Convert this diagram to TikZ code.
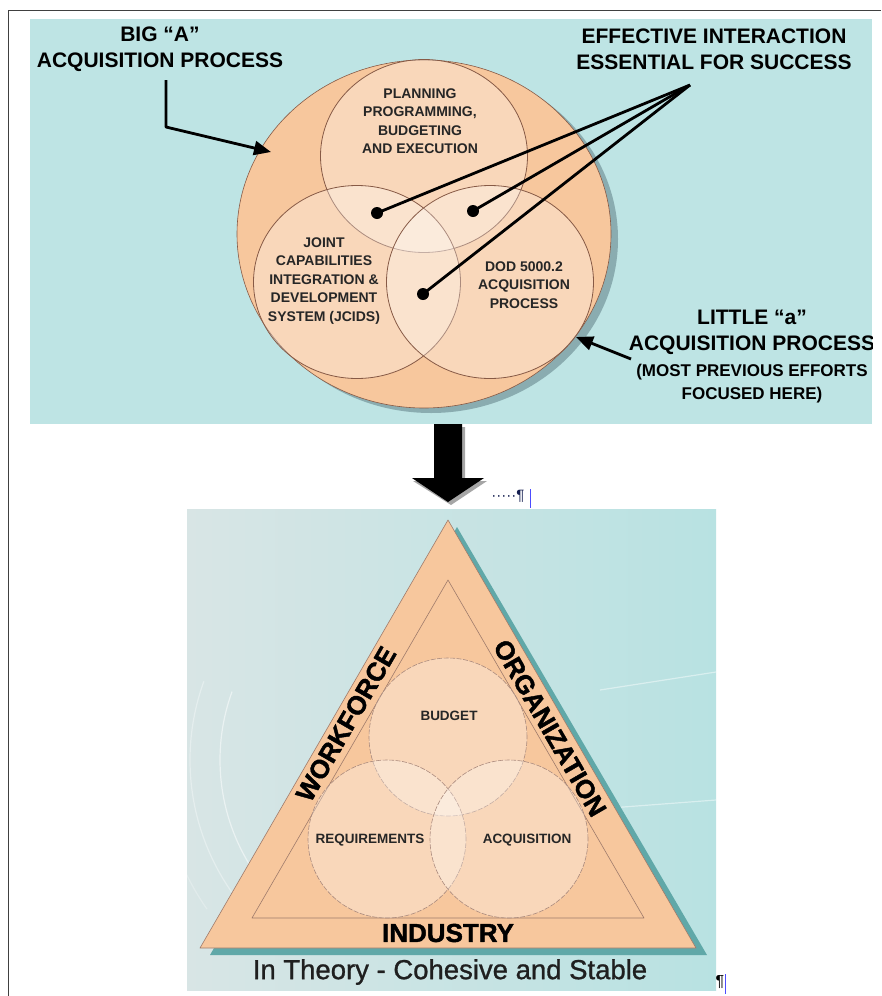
\documentclass[tikz,border=0pt]{standalone}
\usepackage{fontspec}
\setmainfont{Liberation Sans}
\newfontfamily\heavyfont[BoldFeatures={FakeBold=1.6}]{Liberation Sans}
\newfontfamily\mediumfont[FakeBold=1.0]{Liberation Sans}
\usetikzlibrary{arrows.meta,positioning,shapes.geometric}

\definecolor{panelcyan}{RGB}{190,228,228}
\definecolor{peach}{RGB}{247,199,157}
\definecolor{rimbrown}{RGB}{135,90,70}
\definecolor{rimshadow}{RGB}{138,172,176}
\definecolor{triteal}{RGB}{96,168,168}
\definecolor{bgleft}{RGB}{216,229,229}
\definecolor{bgright}{RGB}{184,226,226}
\definecolor{marknavy}{RGB}{20,30,80}

\tikzset{
  hdr/.style={font=\bfseries\fontsize{21}{26}\selectfont,align=center,text=black},
  venn/.style={ellipse,draw=rimbrown,line width=0.8pt,fill=white,fill opacity=0.3,
    minimum width=207pt,minimum height=193pt,inner sep=0pt},
  venntext/.style={font=\bfseries\fontsize{14}{18.5}\selectfont,align=center,text=black!85},
  hotspot/.style={circle,fill=black,inner sep=0pt,minimum size=12pt},
  lead/.style={line width=2.8pt,black},
  trivenn/.style={circle,draw=rimbrown!70,line width=0.6pt,dash pattern=on 5pt off 1.5pt,
    fill=white,fill opacity=0.3,minimum size=158pt,inner sep=0pt},
  trilabel/.style={font=\bfseries\fontsize{13.5}{16}\selectfont,text=black!85},
  sidelabel/.style={font=\heavyfont\bfseries\fontsize{26}{30}\selectfont,text=black},
}

\begin{document}
\begin{tikzpicture}[x=1pt,y=-1pt,line join=round]
\useasboundingbox (0,0) rectangle (881,996);
\draw[black!75,line width=1pt] (8,996) -- (8,10) -- (881,10);

% big A / little a
\fill[panelcyan] (30,19) rectangle (872,424);
\fill[rimshadow] (431,239) ellipse [x radius=187, y radius=174];
\draw[rimbrown,line width=0.6pt,fill=peach] (424,234) ellipse [x radius=187, y radius=174];
\node[venn] (ppbe) at (424,156) {};
\node[venn] (jcids) at (357,282) {};
\node[venn] (dod) at (490,282) {};
\node[venntext] (ppbetext) at (420,121) {PLANNING\\PROGRAMMING,\\BUDGETING\\AND EXECUTION};
\node[venntext] (jcidstext) at (324,281) {JOINT\\CAPABILITIES\\INTEGRATION \&\\DEVELOPMENT\\SYSTEM (JCIDS)};
\node[venntext] (dodtext) at (524,285) {DOD 5000.2\\ACQUISITION\\PROCESS};

\node[hotspot] (ppbejcids) at (377,213) {};
\node[hotspot] (ppbedod) at (473,211) {};
\node[hotspot] (jcidsdod) at (423,294) {};

\node[hdr] (bigA) at (160,49) {BIG “A”\\ACQUISITION PROCESS};
\node[hdr] (effective) at (714,49) {EFFECTIVE INTERACTION\\ESSENTIAL FOR SUCCESS};
\begin{scope}
\clip (30,19) rectangle (872,424);
\node[hdr] (little) at (752,332) {LITTLE “a”\\ACQUISITION PROCESS};
\node[font=\bfseries\fontsize{17}{23}\selectfont,align=center] (focused) at (752,384)
  {(MOST PREVIOUS EFFORTS\\FOCUSED HERE)};
\end{scope}

\coordinate (bigstart) at (166,80);
\coordinate (bigtip) at (271,152);
\draw[lead,-{Triangle[length=17pt,width=14pt]}] (bigstart) -- (166,127) -- (bigtip);
\coordinate (hub) at (690,85);
\foreach \spot in {ppbejcids,ppbedod,jcidsdod}
  \draw[lead] (hub) -- (\spot.center);
\coordinate (littlestart) at (631,359);
\coordinate (littletip) at (576,337);
\draw[lead,-{Triangle[length=17pt,width=14pt]}] (littlestart) -- (littletip);

% down arrow
\fill[black!35] (437,427) -- (465,427) -- (465,481) -- (487,481) -- (451,505) -- (413,481) -- (437,481) -- cycle;
\fill[black] (434,424) -- (462,424) -- (462,478) -- (484,478) -- (448,502) -- (412,478) -- (434,478) -- cycle;
\node[font=\fontsize{15}{16}\selectfont,text=marknavy,inner sep=0pt] (mark) at (508,496) {·····¶};
\draw[blue!70,line width=0.8pt] (530,489) -- (530,508);

% triangle
\shade[left color=bgleft,right color=bgright] (187,509) rectangle (716,990);
\foreach \r/\a in {200/0.5,230/0.35,260/0.25}
  \draw[white,opacity=\a,line width=1.2pt] (420,760) ++(200:\r) arc [start angle=200,end angle=145,radius=\r];
\draw[white,opacity=0.45,line width=1.2pt] (600,690) -- (716,672);
\draw[white,opacity=0.45,line width=1.2pt] (610,808) -- (716,800);
\fill[triteal] (457,527) -- (707,955) -- (210,955) -- cycle;
\draw[rimbrown!80,line width=0.6pt,fill=peach] (448,520) -- (696,948) -- (200,948) -- cycle;
\draw[rimbrown!80,line width=0.6pt] (448,580) -- (644,918) -- (252,918) -- cycle;
\node[trivenn] (budget) at (448,737) {};
\node[trivenn] (requirements) at (387,839) {};
\node[trivenn] (acquisition) at (509,839) {};
\node[trilabel] (budgettext) at (449,716) {BUDGET};
\node[trilabel] (reqtext) at (370,840) {REQUIREMENTS};
\node[trilabel] (acqtext) at (527,840) {ACQUISITION};
\node[sidelabel,rotate=60] (workforce) at (346,724) {WORKFORCE};
\node[sidelabel,rotate=-60] (organization) at (550,728) {ORGANIZATION};
\node[sidelabel] (industry) at (448,933) {INDUSTRY};
\node[font=\mediumfont\fontsize{27.5}{32}\selectfont,text=black!88] (theory) at (450,972)
  {In Theory - Cohesive and Stable};
\node[font=\fontsize{16}{18}\selectfont,inner sep=0pt] (endmark) at (720,982) {¶};
\draw[blue!70,line width=0.8pt] (725,974) -- (725,994);
\end{tikzpicture}
\end{document}
